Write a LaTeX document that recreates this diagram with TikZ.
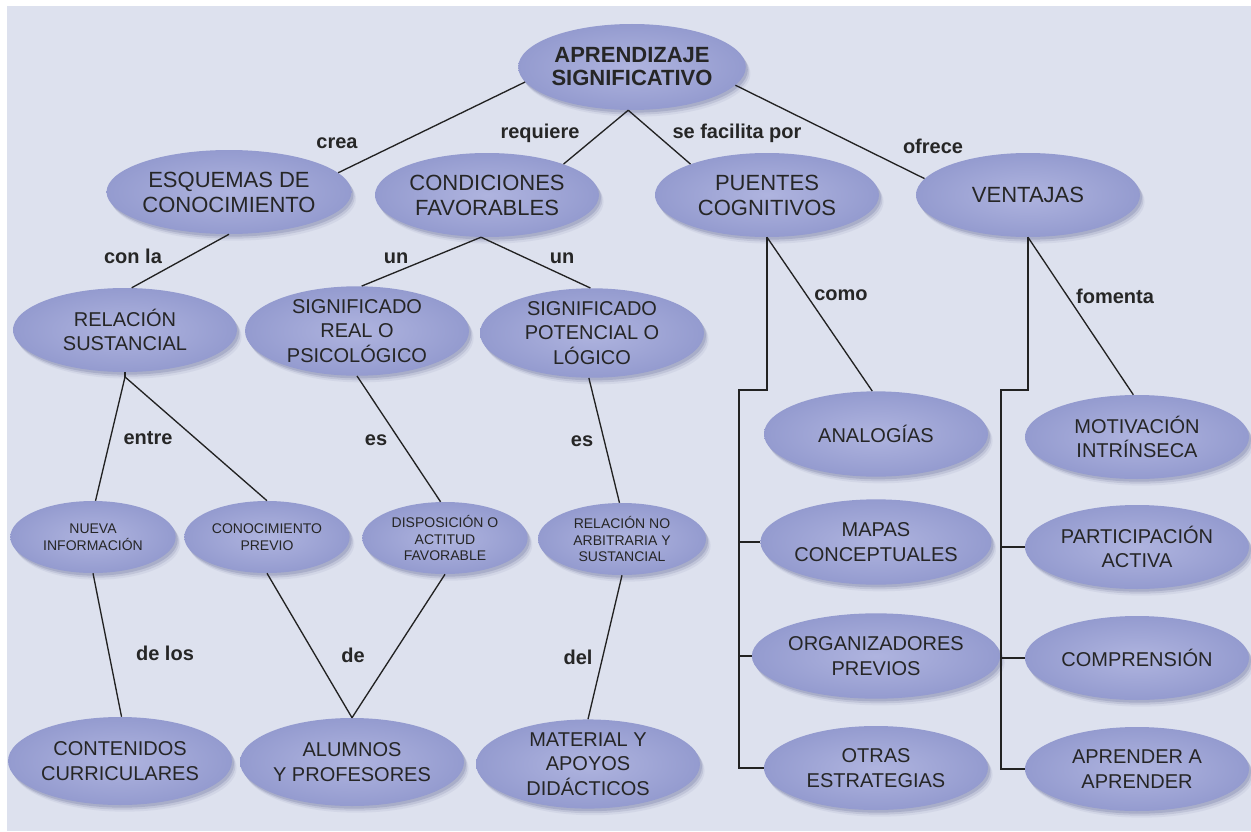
\documentclass[tikz,border=0pt]{standalone}
\usepackage{fontspec}
\setmainfont{Liberation Sans}
\usetikzlibrary{shapes.geometric,shadows}
\definecolor{bgc}{HTML}{DDE1EE}
\definecolor{ellin}{HTML}{AFB4DF}
\definecolor{ellout}{HTML}{949BCF}
\definecolor{shc}{HTML}{5A6090}
\definecolor{txt}{HTML}{262626}
\definecolor{lnc}{HTML}{222222}
\tikzset{
  bub/.style={ellipse, inner sep=0pt, shading=radial, inner color=ellin, outer color=ellout,
    text=txt, align=center,
    drop shadow={shadow xshift=1.5pt, shadow yshift=-2pt, opacity=.22, fill=shc},
    drop shadow={shadow xshift=2.5pt, shadow yshift=-3.5pt, opacity=.15, fill=shc},
    drop shadow={shadow xshift=3.5pt, shadow yshift=-5pt, opacity=.08, fill=shc}},
  top/.style={bub, minimum width=165pt, minimum height=64.5pt, font=\bfseries\fontsize{16.5}{17.3}\selectfont},
  big/.style={bub, minimum width=168pt, minimum height=63pt, font=\fontsize{16.5}{18.75}\selectfont},
  mid/.style={bub, minimum width=168pt, minimum height=65pt, font=\fontsize{15}{18.4}\selectfont},
  small/.style={bub, minimum width=124pt, minimum height=54pt, font=\fontsize{10.5}{12.4}\selectfont},
  lab/.style={font=\bfseries\fontsize{15}{16}\selectfont, text=txt, inner sep=0pt},
  con/.style={draw=lnc, line width=1pt}
}
\begin{document}
\begin{tikzpicture}[x=0.75pt,y=-0.75pt]
\useasboundingbox (0,0) rectangle (1251,831);
\fill[white] (0,0) rectangle (1251,831);
\fill[bgc] (7,6) rectangle (1251,831);

% nodes
\node[top] (ap) at (632,67) {APRENDIZAJE\\SIGNIFICATIVO};
\node[big] (esq) at (229,192) {ESQUEMAS DE\\CONOCIMIENTO};
\node[big] (cond) at (487,195) {CONDICIONES\\FAVORABLES};
\node[big] (pue) at (767,195) {PUENTES\\COGNITIVOS};
\node[big] (ven) at (1028,195) {VENTAJAS};
\node[mid, minimum height=63pt] (rel) at (125,330) {RELACIÓN\\SUSTANCIAL};
\node[mid] (sreal) at (357,331) {SIGNIFICADO\\REAL O\\PSICOLÓGICO};
\node[mid] (spot) at (592,333) {SIGNIFICADO\\POTENCIAL O\\LÓGICO};
\node[small] (nueva) at (93,537) {NUEVA\\INFORMACIÓN};
\node[small] (conoc) at (267,537) {CONOCIMIENTO\\PREVIO};
\node[small] (disp) at (445,538) {DISPOSICIÓN O\\ACTITUD\\FAVORABLE};
\node[small, minimum width=126pt] (rno) at (622,539) {RELACIÓN NO\\ARBITRARIA Y\\SUSTANCIAL};
\node[mid, minimum height=66pt] (cont) at (120,761) {CONTENIDOS\\CURRICULARES};
\node[mid, minimum height=66pt] (alum) at (352,762) {ALUMNOS\\Y PROFESORES};
\node[mid, minimum height=66pt] (mat) at (588,764) {MATERIAL Y\\APOYOS\\DIDÁCTICOS};
\node[mid, minimum height=64pt] (ana) at (876,434) {ANALOGÍAS};
\node[mid, minimum height=64pt] (mapas) at (876,542) {MAPAS\\CONCEPTUALES};
\node[mid, minimum height=64pt] (org) at (876,656) {ORGANIZADORES\\PREVIOS};
\node[mid, minimum height=63pt] (otras) at (876,768) {OTRAS\\ESTRATEGIAS};
\node[mid, minimum height=63pt] (mot) at (1137,437) {MOTIVACIÓN\\INTRÍNSECA};
\node[mid, minimum height=63pt] (part) at (1137,547) {PARTICIPACIÓN\\ACTIVA};
\node[mid, minimum height=63pt] (comp) at (1137,658) {COMPRENSIÓN};
\node[mid, minimum height=63pt] (apr) at (1137,769) {APRENDER A\\APRENDER};

% junctions
\coordinate (relj) at ([yshift=-3.5pt]rel.south);
\coordinate (pb) at (739,390);
\coordinate (vb) at (1001,390);

% connectors
\draw[con] (ap.188) -- (esq.10);
\draw[con] (ap.265) -- (cond.22);
\draw[con] (ap.265) -- (pue.158);
\draw[con] (ap.350) -- (ven.171);
\draw[con] (esq.south) -- (rel.81);
\draw[con] (cond.262) -- (sreal.84);
\draw[con] (cond.262) -- (spot.92);
\draw[con] (rel.south) -- (relj);
\draw[con] (relj) -- (nueva.86);
\draw[con] (relj) -- (conoc.north);
\draw[con] (sreal.south) -- (disp.97);
\draw[con] (spot.266) -- (rno.94);
\draw[con] (nueva.south) -- (cont.88);
\draw[con] (conoc.south) -- (alum.north);
\draw[con] (disp.south) -- (alum.north);
\draw[con] (rno.south) -- (mat.north);
\draw[con] (pue.south) -- (ana.95);
\draw[con] (pue.south) -- (pue.south |- pb) -- (pb) |- (otras.west);
\draw[con] (pb |- mapas) -- (mapas.west);
\draw[con] (pb |- org) -- (org.west);
\draw[con] (ven.south) -- (mot.95);
\draw[con] (ven.south) -- (ven.south |- vb) -- (vb) |- (apr.west);
\draw[con] (vb |- part) -- (part.west);
\draw[con] (vb |- comp) -- (comp.west);

% labels
\node[lab] (l1) at (337,143) {crea};
\node[lab] (l2) at (540,133) {requiere};
\node[lab] (l3) at (737,133) {se facilita por};
\node[lab] (l4) at (933,146) {ofrece};
\node[lab] (l5) at (133,256) {con la};
\node[lab] (l6) at (396,258) {un};
\node[lab] (l7) at (562,258) {un};
\node[lab] (l8) at (148,438) {entre};
\node[lab] (l9) at (376,440) {es};
\node[lab] (l10) at (582,441) {es};
\node[lab] (l11) at (841,295) {como};
\node[lab] (l12) at (1115,296) {fomenta};
\node[lab] (l13) at (165,653) {de los};
\node[lab] (l14) at (353,655) {de};
\node[lab] (l15) at (578,657) {del};
\end{tikzpicture}
\end{document}
